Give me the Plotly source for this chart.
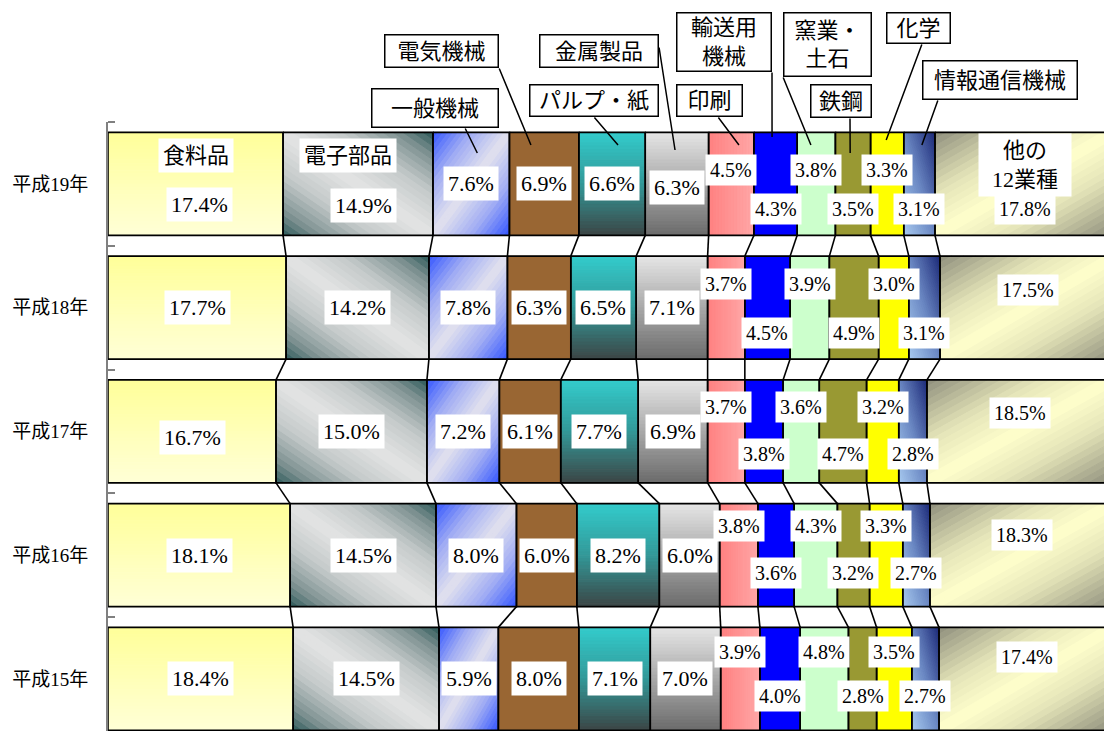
import plotly.graph_objects as go

# ---- data -------------------------------------------------------------
years = ['平成19年', '平成18年', '平成17年', '平成16年', '平成15年']
industries = ['食料品', '電子部品', '一般機械', '電気機械', 'パルプ・紙', '金属製品',
              '印刷', '輸送用機械', '窯業・土石', '鉄鋼', '化学', '情報通信機械', '他の12業種']
share_h19 = [17.4, 14.9, 7.6, 6.9, 6.6, 6.3, 4.5, 4.3, 3.8, 3.5, 3.3, 3.1, 17.8]
share_h18 = [17.7, 14.2, 7.8, 6.3, 6.5, 7.1, 3.7, 4.5, 3.9, 4.9, 3.0, 3.1, 17.5]
share_h17 = [16.7, 15.0, 7.2, 6.1, 7.7, 6.9, 3.7, 3.8, 3.6, 4.7, 3.2, 2.8, 18.5]
share_h16 = [18.1, 14.5, 8.0, 6.0, 8.2, 6.0, 3.8, 3.6, 4.3, 3.2, 3.3, 2.7, 18.3]
share_h15 = [18.4, 14.5, 5.9, 8.0, 7.1, 7.0, 3.9, 4.0, 4.8, 2.8, 3.5, 2.7, 17.4]
shares = [share_h19, share_h18, share_h17, share_h16, share_h15]

# ---- layout geometry --------------------------------------------------
W, H = 1104, 731
ML, MT = 108, 122
PLOT_W, PLOT_H = W - ML, H - MT
X_MAX = 99.0                      # visible part of the 100% scale
PX_X = PLOT_W / X_MAX
PY = 123.75                       # pixels per row
Y_TOP = 4.5
Y_BOT = Y_TOP - PLOT_H / PY
HALF = 0.416                      # half bar thickness (row units)
row_y = [4 - i for i in range(len(years))]

SERIF = '"Liberation Serif", "Times New Roman", "DejaVu Serif", "Noto Sans CJK JP", serif'

# fill style per industry: solid colour or linear gradient u = cx*X + cy*Y
# (X left->right, Y top->bottom inside each bar, both 0..1)
fills = {
    '食料品': ('grad', (0, 1), [(0, '#FFFF99'), (1, '#FFFFD6')]),
    '電子部品': ('grad', (1, -1), [(0, '#2E5A5A'), (0.12, '#7E9292'), (0.3, '#C4CACA'),
                                (0.5, '#E4E4E4'), (0.7, '#C4CACA'), (0.88, '#7E9292'),
                                (1, '#2E5A5A')]),
    '一般機械': ('grad', (1, 1), [(0, '#3355FF'), (0.25, '#A0ACF4'), (0.5, '#E2E2EE'),
                                (0.75, '#A0ACF4'), (1, '#3355FF')]),
    '電気機械': ('solid', '#996633'),
    'パルプ・紙': ('grad', (0, 1), [(0, '#33CCCC'), (0.5, '#339999'), (1, '#3C4646')]),
    '金属製品': ('grad', (0, 1), [(0, '#E6E6E6'), (1, '#6C6C6C')]),
    '印刷': ('grad', (1, 0), [(0, '#FF8080'), (1, '#FFA6A6')]),
    '輸送用機械': ('solid', '#0000FF'),
    '窯業・土石': ('solid', '#CCFFCC'),
    '鉄鋼': ('solid', '#999933'),
    '化学': ('solid', '#FFFF00'),
    '情報通信機械': ('grad', (1, -1), [(0, '#A8CBF0'), (0.5, '#6B88C4'), (1, '#1C2A78')]),
    '他の12業種': ('grad', (1, 1), [(0, '#8E8E7C'), (0.3, '#E4E4B8'), (0.5, '#FFFFCC'),
                                  (0.7, '#E4E4B8'), (1, '#8E8E7C')]),
}
N_STRIPS = 30


def hex_rgb(h):
    h = h.lstrip('#')
    return tuple(int(h[i:i + 2], 16) for i in (0, 2, 4))


def color_at(stops, t):
    for (t0, c0), (t1, c1) in zip(stops[:-1], stops[1:]):
        if t <= t1:
            f = 0 if t1 == t0 else (t - t0) / (t1 - t0)
            a, b = hex_rgb(c0), hex_rgb(c1)
            return 'rgb(%d,%d,%d)' % tuple(round(a[i] + f * (b[i] - a[i])) for i in range(3))
    return stops[-1][1]


def clip_half(poly, cx, cy, level, keep_above):
    out = []
    n = len(poly)
    for i in range(n):
        p, q = poly[i], poly[(i + 1) % n]
        fp = cx * p[0] + cy * p[1] - level
        fq = cx * q[0] + cy * q[1] - level
        if not keep_above:
            fp, fq = -fp, -fq
        if fp >= 0:
            out.append(p)
        if (fp >= 0) != (fq >= 0):
            t = fp / (fp - fq)
            out.append((p[0] + t * (q[0] - p[0]), p[1] + t * (q[1] - p[1])))
    return out


# cumulative starts for every row
starts = []
for vals in shares:
    acc, s = 0.0, []
    for v in vals:
        s.append(acc)
        acc += v
    starts.append(s)


def to_data(pt, base, width, yc):
    return base + pt[0] * width, yc + HALF - pt[1] * 2 * HALF


fig = go.Figure()
unit_sq = [(0, 0), (1, 0), (1, 1), (0, 1)]

for j, name in enumerate(industries):
    style = fills[name]
    if style[0] == 'solid':
        xs, ys = [], []
        for r, vals in enumerate(shares):
            for pt in unit_sq + [unit_sq[0]]:
                x, y = to_data(pt, starts[r][j], vals[j], row_y[r])
                xs.append(x)
                ys.append(y)
            xs.append(None)
            ys.append(None)
        fig.add_trace(go.Scatter(x=xs, y=ys, mode='lines', fill='toself',
                                 fillcolor=style[1], line=dict(color=style[1], width=0.5),
                                 hoverinfo='skip', showlegend=False, name=name))
    else:
        (cx, cy), stops = style[1], style[2]
        corner_u = [cx * p[0] + cy * p[1] for p in unit_sq]
        umin, umax = min(corner_u), max(corner_u)
        for k in range(N_STRIPS):
            a = umin + (umax - umin) * k / N_STRIPS
            b = umin + (umax - umin) * (k + 1) / N_STRIPS
            poly = clip_half(unit_sq, cx, cy, a, True)
            poly = clip_half(poly, cx, cy, b, False)
            if len(poly) < 3:
                continue
            col = color_at(stops, (k + 0.5) / N_STRIPS)
            xs, ys = [], []
            for r, vals in enumerate(shares):
                for pt in poly + [poly[0]]:
                    x, y = to_data(pt, starts[r][j], vals[j], row_y[r])
                    xs.append(x)
                    ys.append(y)
                xs.append(None)
                ys.append(None)
            fig.add_trace(go.Scatter(x=xs, y=ys, mode='lines', fill='toself',
                                     fillcolor=col, line=dict(color=col, width=1),
                                     hoverinfo='skip', showlegend=False, name=name))

# segment outlines
ox, oy = [], []
for r, vals in enumerate(shares):
    for j, v in enumerate(vals):
        for pt in unit_sq + [unit_sq[0]]:
            x, y = to_data(pt, starts[r][j], v, row_y[r])
            ox.append(x)
            oy.append(y)
        ox.append(None)
        oy.append(None)
fig.add_trace(go.Scatter(x=ox, y=oy, mode='lines', line=dict(color='black', width=1.6),
                         hoverinfo='skip', showlegend=False))

# connector lines between the boundaries of neighbouring years
cx_, cy_ = [], []
for r in range(len(shares) - 1):
    for k in range(1, len(industries)):
        cx_ += [starts[r][k], starts[r + 1][k], None]
        cy_ += [row_y[r] - HALF, row_y[r + 1] + HALF, None]
fig.add_trace(go.Scatter(x=cx_, y=cy_, mode='lines', line=dict(color='black', width=1.6),
                         hoverinfo='skip', showlegend=False))

# ---- value labels -------------------------------------------------------
upper_dy = [-14, -24, -24, -29, -27]
lower_dy = [25, 25, 23, 18, 17]
other_dy = [25, -18, -18, -20, -22]
label_shift = {(0, 0): (4, 21), (0, 1): (5, 22), (0, 5): (0, 4), (2, 0): (0, 6)}

annotations = []


def label(x, y, text, size, dx=0, dy=0):
    annotations.append(dict(x=x, y=y, xref='x', yref='y', text=text, showarrow=False,
                            xshift=dx, yshift=-dy, bgcolor='white', borderpad=4,
                            font=dict(family=SERIF, size=size, color='black')))


for r, vals in enumerate(shares):
    for j, v in enumerate(vals):
        xc = starts[r][j] + v / 2
        txt = f'{v:.1f}%'
        if 6 <= j <= 11:
            dy = upper_dy[r] if (j - 6) % 2 == 0 else lower_dy[r]
            label(xc, row_y[r], txt, 20, 0, dy)
        elif j == 12:
            label(xc, row_y[r], txt, 20, 0, other_dy[r])
        else:
            dx, dy = label_shift.get((r, j), (0, 0))
            label(xc, row_y[r], txt, 22, dx, dy)

# industry names written inside the first row's bars
label(starts[0][0] + shares[0][0] / 2, row_y[0], industries[0], 22, 0, -28)
label(starts[0][1] + shares[0][1] / 2, row_y[0], industries[1], 22, -10, -28)
annotations.append(dict(x=starts[0][12] + shares[0][12] / 2, y=row_y[0], xref='x', yref='y',
                        text='他の<br>12業種', showarrow=False, yshift=19, bgcolor='white',
                        borderpad=4, width=84,
                        font=dict(family=SERIF, size=22, color='black')))

# ---- callouts for the narrower industries ------------------------------
wrap = {'輸送用機械': '輸送用<br>機械', '窯業・土石': '窯業・<br>土石'}
callouts = [
    # industry index, box (x0, y0, x1, y1) px, leader start px, target frac, target y px
    (3, (384, 34, 499, 68), (499, 68), 0.31, 145),
    (2, (371, 88, 499, 128), (465, 128), 0.58, 153),
    (5, (539, 34, 659, 68), (659, 47), 0.47, 150),
    (4, (529, 84, 659, 117), (594, 117), 0.59, 145),
    (6, (676, 84, 743, 117), (718, 117), 0.67, 145),
    (7, (676, 12, 772, 72), (772, 72), 0.42, 137),
    (8, (783, 12, 872, 77), (783, 77), 0.36, 145),
    (9, (810, 84, 872, 118), (850, 118), 0.42, 153),
    (10, (886, 12, 951, 44), (922, 44), 0.47, 140),
    (11, (922, 60, 1078, 100), (938, 100), 0.58, 145),
]
for j, (x0, y0, x1, y1), (sx, sy), frac, ty in callouts:
    tx = starts[0][j] + frac * shares[0][j]
    tx_px = ML + tx * PX_X
    ty_data = Y_TOP - (ty - MT) / PY
    annotations.append(dict(x=tx, y=ty_data, xref='x', yref='y', text='', showarrow=True,
                            arrowhead=0, arrowwidth=1.5, arrowcolor='black',
                            axref='pixel', ayref='pixel', ax=sx - tx_px, ay=sy - ty,
                            standoff=0, startstandoff=0, borderpad=0))
    name = industries[j]
    annotations.append(dict(x=((x0 + x1) / 2 - ML) / PLOT_W, y=(H - (y0 + y1) / 2) / PLOT_H,
                            xref='paper', yref='paper', xanchor='center', yanchor='middle',
                            text=wrap.get(name, name), showarrow=False,
                            width=x1 - x0 - 3, height=y1 - y0 - 3,
                            bgcolor='white', bordercolor='black', borderwidth=1.5, borderpad=0,
                            font=dict(family=SERIF, size=22, color='black')))

fig.update_layout(
    width=W, height=H,
    margin=dict(l=ML, r=0, t=MT, b=0),
    paper_bgcolor='white', plot_bgcolor='white',
    showlegend=False,
    annotations=annotations,
    xaxis=dict(visible=False, range=[0, X_MAX], fixedrange=True),
    yaxis=dict(range=[Y_BOT, Y_TOP], tickmode='array', tickvals=row_y, ticktext=years,
               ticks='', showgrid=False, zeroline=False, showline=True,
               linecolor='#808080', linewidth=2, ticklabelstandoff=14,
               tickfont=dict(family=SERIF, size=19, color='black'),
               minor=dict(tickmode='array', tickvals=[r + 0.5 for r in range(5)],
                          ticks='inside', ticklen=7, tickwidth=1.5, tickcolor='#808080',
                          showgrid=False),
               fixedrange=True),
)

fig.write_html('out.html')
